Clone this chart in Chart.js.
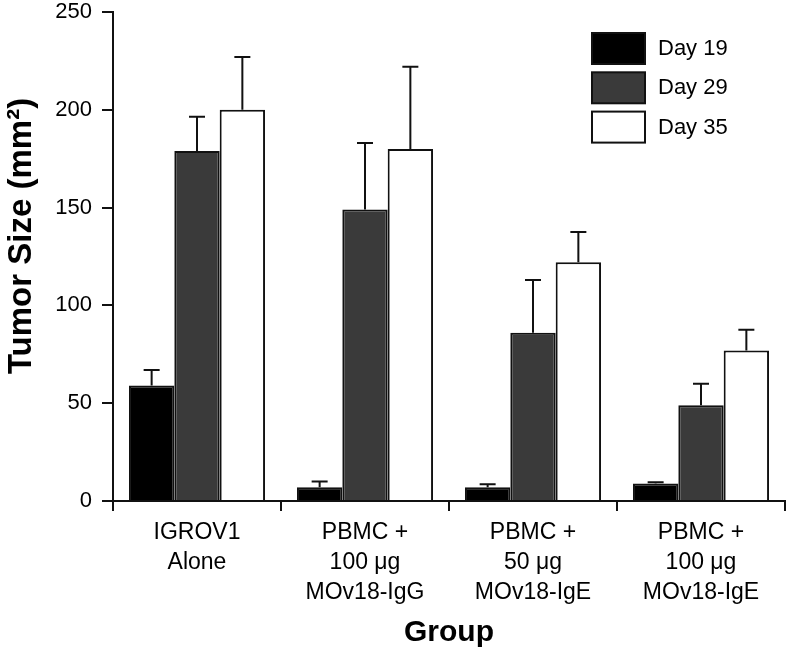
<!DOCTYPE html>
<html>
<head>
<meta charset="utf-8">
<script src="https://cdn.jsdelivr.net/npm/chart.js@4/dist/chart.umd.min.js"></script>
<style>
  body { margin: 0; background: #fff; }
  #wrap { width: 786px; height: 651px; }
</style>
</head>
<body>
<div id="wrap"><canvas id="tumorChart" width="786" height="651"></canvas></div>
<script>
var groups = [
    ['IGROV1', 'Alone'],
    ['PBMC +', '100 \u03bcg', 'MOv18-IgG'],
    ['PBMC +', '50 \u03bcg', 'MOv18-IgE'],
    ['PBMC +', '100 \u03bcg', 'MOv18-IgE']
];
var day19 = [59, 7, 7, 9];
var day29 = [179, 149, 86, 49];
var day35 = [200, 180, 122, 77];
var day19Err = [8, 3, 1.6, 0.6];
var day29Err = [17.5, 34, 27, 11];
var day35Err = [27, 42, 15.5, 10.6];
var yTicks = [0, 50, 100, 150, 200, 250];
var yTitle = 'Tumor Size (mm\u00b2)';

var font = '"Liberation Sans", Arial, Helvetica, sans-serif';

// upward-only error bars with a cap
var errorBars = {
    id: 'errorBars',
    afterDatasetsDraw: function(chart) {
        var c = chart.ctx;
        var y = chart.scales.y;
        c.save();
        c.strokeStyle = '#111';
        c.lineWidth = 2;
        chart.data.datasets.forEach(function(ds, i) {
            var meta = chart.getDatasetMeta(i);
            meta.data.forEach(function(bar, j) {
                var top = y.getPixelForValue(ds.data[j]);
                var end = y.getPixelForValue(ds.data[j] + ds.errors[j]);
                c.beginPath();
                c.moveTo(bar.x, top);
                c.lineTo(bar.x, end);
                c.moveTo(bar.x - 8, end);
                c.lineTo(bar.x + 8, end);
                c.stroke();
            });
        });
        c.restore();
    }
};

// legend boxed in the top right corner of the plot, plus the y title
var boxLegend = {
    id: 'boxLegend',
    afterDraw: function(chart) {
        var c = chart.ctx;
        c.save();
        c.font = '22px ' + font;
        c.textBaseline = 'middle';
        chart.data.datasets.forEach(function(ds, i) {
            var top = 33 + i * 39.3;
            c.fillStyle = ds.backgroundColor;
            c.fillRect(592, top, 53, 31);
            c.strokeStyle = '#111';
            c.lineWidth = 2;
            c.strokeRect(592, top, 53, 31);
            c.fillStyle = '#000';
            c.fillText(ds.label, 658, top + 16);
        });
        c.translate(22, 236);
        c.rotate(-Math.PI / 2);
        c.textAlign = 'center';
        c.font = 'bold 33px ' + font;
        c.fillText(yTitle, 0, 0);
        c.restore();
    }
};

var ctx = document.getElementById('tumorChart').getContext('2d');
new Chart(ctx, {
    type: 'bar',
    data: {
        labels: groups,
        datasets: [
            { label: 'Day 19', data: day19, errors: day19Err, backgroundColor: '#000000' },
            { label: 'Day 29', data: day29, errors: day29Err, backgroundColor: '#3a3a3a' },
            { label: 'Day 35', data: day35, errors: day35Err, backgroundColor: '#ffffff' }
        ]
    },
    options: {
        responsive: false,
        animation: false,
        layout: { padding: { top: 12, right: 1 } },
        datasets: {
            bar: {
                borderColor: '#111',
                borderWidth: 2,
                categoryPercentage: 0.81,
                barPercentage: 1
            }
        },
        plugins: {
            legend: { display: false },
            tooltip: { enabled: false }
        },
        scales: {
            x: {
                afterFit: function(s) { s.height = 150; },
                grid: { drawOnChartArea: false, offset: true, tickLength: 10, color: '#111', lineWidth: 2 },
                border: { color: '#111', width: 2 },
                ticks: { color: '#000', font: { family: font, size: 23, lineHeight: 1.3 }, padding: 7, maxRotation: 0 },
                title: { display: true, text: 'Group', color: '#000', font: { family: font, size: 30, weight: 'bold' }, padding: { top: 0, bottom: 0 } }
            },
            y: {
                min: 0,
                max: 250,
                afterFit: function(s) {
                    s.width = 113;
                    s.paddingTop = 0;
                    s.paddingBottom = 0;
                },
                afterBuildTicks: function(s) { s.ticks = yTicks.map(function(v) { return { value: v }; }); },
                grid: { drawOnChartArea: false, tickLength: 11, color: '#111', lineWidth: 2 },
                border: { color: '#111', width: 2 },
                ticks: { color: '#000', font: { family: font, size: 22 }, padding: 10 }
            }
        }
    },
    plugins: [errorBars, boxLegend]
});
</script>
</body>
</html>
